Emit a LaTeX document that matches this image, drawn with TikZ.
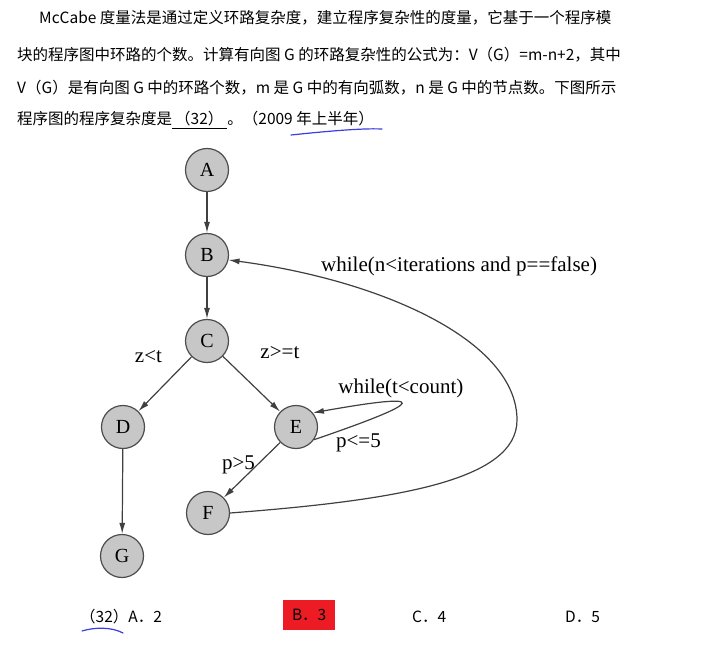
\documentclass[tikz,border=0pt]{standalone}
\usepackage{fontspec}
\setmainfont{Liberation Serif}
\newfontfamily\cjk{Noto Sans CJK SC}
\usetikzlibrary{arrows.meta}

\definecolor{pen}{RGB}{60,60,225}
\definecolor{mark}{RGB}{237,28,36}

\tikzset{
  vertex/.style = {draw = black!70, fill = black!22, circle, minimum size = 43pt,
                   inner sep = 0pt, line width = 1.2pt, font = \fontsize{20}{20}\selectfont},
  edge/.style   = {draw = black!75, line width = 1.2pt, -{Latex[length = 11pt, width = 6pt]}},
  cond/.style   = {font = \fontsize{21}{21}\selectfont, inner sep = 1pt},
  textline/.style = {anchor = west, inner sep = 0pt, font = \cjk\fontsize{15.5}{15.5}\selectfont},
  stroke/.style = {draw = pen, line width = 1.2pt, line cap = round},
}

\begin{document}
\begin{tikzpicture}[x = 1pt, y = -1pt]
  \useasboundingbox (0,0) rectangle (712,647);

  % question
  \node[textline] (line1) at (39,18) {McCabe 度量法是通过定义环路复杂度，建立程序复杂性的度量，它基于一个程序模};
  \node[textline] (line2) at (17,55) {块的程序图中环路的个数。计算有向图 G 的环路复杂性的公式为：V（G）=m-n+2，其中};
  \node[textline] (line3) at (17,88) {V（G）是有向图 G 中的环路个数，m 是 G 中的有向弧数，n 是 G 中的节点数。下图所示};
  \node[textline] (line4) at (17,120) {程序图的程序复杂度是\underline{\hspace{3pt}（32）\hspace{4pt}}。（2009 年上半年）};
  \draw[stroke] (291,135) .. controls (320,132) and (360,128) .. (382,129);

  % program graph
  \node[vertex] (a) at (207,170) {A};
  \node[vertex] (b) at (207,255) {B};
  \node[vertex] (c) at (207,341) {C};
  \node[vertex] (d) at (123,427) {D};
  \node[vertex] (e) at (296,427) {E};
  \node[vertex] (f) at (208,513) {F};
  \node[vertex] (g) at (122,556) {G};

  \draw[edge] (a) -- (b);
  \draw[edge] (b) -- (c);
  \draw[edge] (c) -- node[cond, pos = 0, left = 28pt] {z<t} (d);
  \draw[edge] (c) -- node[cond, pos = 0, right = 36pt, yshift = 4pt] {z>=t} (e);
  \draw[edge] (d) -- (g);
  \draw[edge] (e) -- node[cond, pos = 0.35, anchor = east, xshift = -4pt, yshift = -3pt] {p>5} (f);
  \draw[edge]
    (e.-35)
      .. controls (430,400) and (430,392) ..
    (e.40)
    node[cond, pos = 0.5, above = 4pt] (inner) {while(t<count)}
    node[cond, pos = 0.15, below = 8pt] {p<=5};
  \draw[edge]
    (f.east)
      .. controls (400,500) and (517,480) ..
    (517,420)
      .. controls (517,340) and (380,280) ..
    (b.-13)
    node[cond, pos = 0.4, above = 57pt] (outer) {while(n<iterations and p==false)};

  % options
  \node[textline] (opta) at (80,617) {（32）A．2};
  \node[textline, fill = mark, minimum width = 52pt, minimum height = 30pt,
        align = center] (optb) at (283,615) {B．3};
  \node[textline] (optc) at (412,617) {C．4};
  \node[textline] (optd) at (565,617) {D．5};
  \draw[stroke] (82,631) .. controls (95,627) and (112,627) .. (123,633);
\end{tikzpicture}
\end{document}
